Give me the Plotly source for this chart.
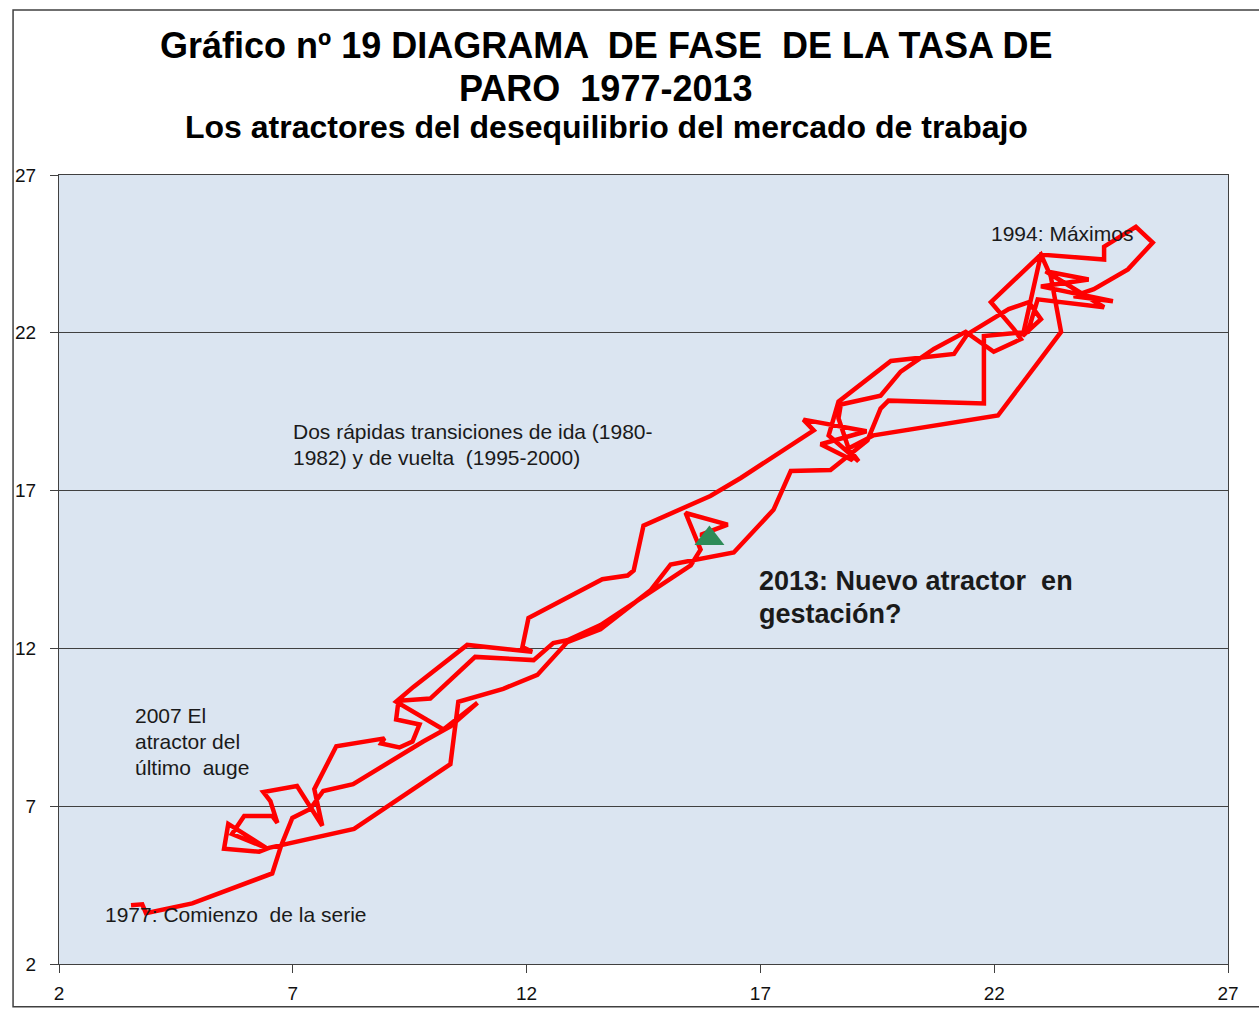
import plotly.graph_objects as go

# Phase diagram of the unemployment rate
tasa_x = [3.54, 3.78, 3.86, 4.85, 6.56, 6.75, 6.99, 7.37, 7.65, 8.29, 9.79, 10.37, 10.95, 10.22, 9.21, 9.58,
          10.73, 12.12, 11.91, 12.04, 13.62, 14.16, 14.29, 14.50, 15.93, 16.58, 18.14,
          17.92, 19.27, 18.29, 18.97, 18.67, 18.72, 19.57, 20.00, 20.71, 21.39, 21.99, 22.57, 22.42, 21.93, 23.00,
          23.21, 23.43, 23.00, 22.08, 19.42, 18.89, 19.10, 18.46,
          18.67, 19.79, 21.14, 21.43, 22.31, 22.74, 23.00, 22.61, 23.00, 24.35, 24.35, 25.03,
          25.39, 24.86, 24.13, 23.70, 24.54, 23.00, 24.02, 23.10, 24.35, 22.93, 22.72, 21.78, 21.78, 19.74, 19.57,
          19.29, 18.50, 17.65, 17.28, 16.43, 15.08, 14.65, 13.58, 12.87, 12.23, 11.50, 10.54, 10.37, 8.31, 6.49,
          6.28, 5.53, 5.62, 6.43, 5.70, 5.96, 6.56, 6.67, 6.52, 6.37, 7.09, 7.63, 7.46, 7.93, 8.96, 8.89, 9.28,
          9.56, 9.71, 9.21, 9.26, 9.94, 10.90, 12.15, 12.57, 12.87, 13.58, 14.59, 15.51, 15.72, 15.40, 16.30,
          15.72, 15.91]
tasa_y = [3.86, 3.89, 3.61, 3.92, 4.87, 5.75, 6.63, 6.91, 7.48, 7.70, 9.05, 9.53, 10.28, 9.43, 10.31, 10.78,
          12.11, 11.89, 12.04, 12.96, 14.19, 14.31, 14.47, 15.89, 16.83, 17.40, 18.91,
          19.25, 18.88, 18.47, 17.96, 19.29, 19.73, 20.01, 20.77, 21.49, 22.03, 21.40, 21.80, 22.12, 22.97, 24.48,
          23.79, 22.03, 21.18, 19.38, 18.75, 18.34, 17.93, 18.75,
          19.82, 21.11, 21.33, 21.96, 22.75, 22.97, 22.43, 21.90, 24.48, 24.32, 24.73, 25.36,
          24.86, 24.01, 23.38, 23.16, 23.00, 23.47, 23.69, 23.95, 22.81, 23.06, 22.03, 21.90, 19.76, 19.85, 19.60,
          18.59, 17.65, 17.62, 16.39, 15.04, 14.66, 13.84, 12.61, 12.20, 11.16, 10.72, 10.31, 8.33, 6.28, 5.68,
          5.56, 5.65, 6.44, 5.68, 6.12, 6.69, 6.69, 6.47, 7.16, 7.45, 7.64, 6.38, 7.54, 8.90, 9.15, 8.99, 8.86,
          9.05, 9.59, 9.75, 10.34, 10.41, 11.73, 11.63, 12.17, 12.26, 12.74, 13.71, 14.63, 15.13, 16.29, 15.92,
          15.60, 15.48]

tick_vals = [2, 7, 12, 17, 22, 27]
tick_text = ["2", "7", "12", "17", "22", "27"]

FONT = "Liberation Sans, Arial, sans-serif"

fig = go.Figure()
fig.add_trace(go.Scatter(x=tasa_x, y=tasa_y, mode="lines",
                         line=dict(color="#ff0000", width=4.5), hoverinfo="skip"))
fig.add_trace(go.Scatter(x=[tasa_x[-1]], y=[tasa_y[-1]], mode="markers",
                         marker=dict(symbol="triangle-up", size=26, color="#2e8b57",
                                     line=dict(width=0)), hoverinfo="skip"))

axis_common = dict(range=[2, 27], tickvals=tick_vals, ticktext=tick_text, zeroline=False,
                   showline=True, linecolor="#404040", linewidth=1, mirror=True,
                   ticks="outside", ticklen=8, tickcolor="#404040",
                   tickfont=dict(family=FONT, size=19, color="#111111"))

fig.update_layout(
    width=1259, height=1016,
    margin=dict(l=59, r=31, t=175, b=47),
    paper_bgcolor="white", plot_bgcolor="#dbe5f1",
    showlegend=False,
    xaxis=dict(showgrid=False, ticklabelstandoff=4, **axis_common),
    yaxis=dict(showgrid=True, gridcolor="#404040", gridwidth=1, ticklabelstandoff=10, **axis_common),
)

anns = [
    dict(text="<b>Gráfico nº 19 DIAGRAMA  DE FASE  DE LA TASA DE</b>", x=0.468, y=1.1637, size=36),
    dict(text="<b>PARO  1977-2013</b>", x=0.468, y=1.1096, size=36),
    dict(text="<b>Los atractores del desequilibrio del mercado de trabajo</b>", x=0.468, y=1.0605, size=32),
]
for a in anns:
    fig.add_annotation(text=a["text"], x=a["x"], y=a["y"], xref="paper", yref="paper",
                       xanchor="center", yanchor="middle", showarrow=False,
                       font=dict(family=FONT, size=a["size"], color="black"))

labels = [
    ("1994: Máximos", 21.88, 25.14, 21, False),
    ("Dos rápidas transiciones de ida (1980-", 6.97, 18.88, 21, False),
    ("1982) y de vuelta  (1995-2000)", 6.97, 18.06, 21, False),
    ("2013: Nuevo atractor  en", 16.92, 14.15, 27, True),
    ("gestación?", 16.92, 13.08, 27, True),
    ("2007 El", 3.58, 9.87, 21, False),
    ("atractor del", 3.58, 9.05, 21, False),
    ("último  auge", 3.58, 8.23, 21, False),
    ("1977: Comienzo  de la serie", 2.94, 3.57, 21, False),
]
for txt, lx, ly, sz, bold in labels:
    fig.add_annotation(text=f"<b>{txt}</b>" if bold else txt, x=lx, y=ly, xref="x", yref="y",
                       xanchor="left", yanchor="middle", showarrow=False,
                       font=dict(family=FONT, size=sz, color="#1a1a1a"))

# outer chart border
fig.add_shape(type="rect", xref="paper", yref="paper", x0=-0.0393, x1=1.03, y0=-0.0542, y1=1.209,
              line=dict(color="#404040", width=1.5), fillcolor="rgba(0,0,0,0)", layer="above")

fig.write_html("out.html", config={"displayModeBar": False},
               post_script="document.body.style.margin='0px';document.body.style.overflow='hidden';")
